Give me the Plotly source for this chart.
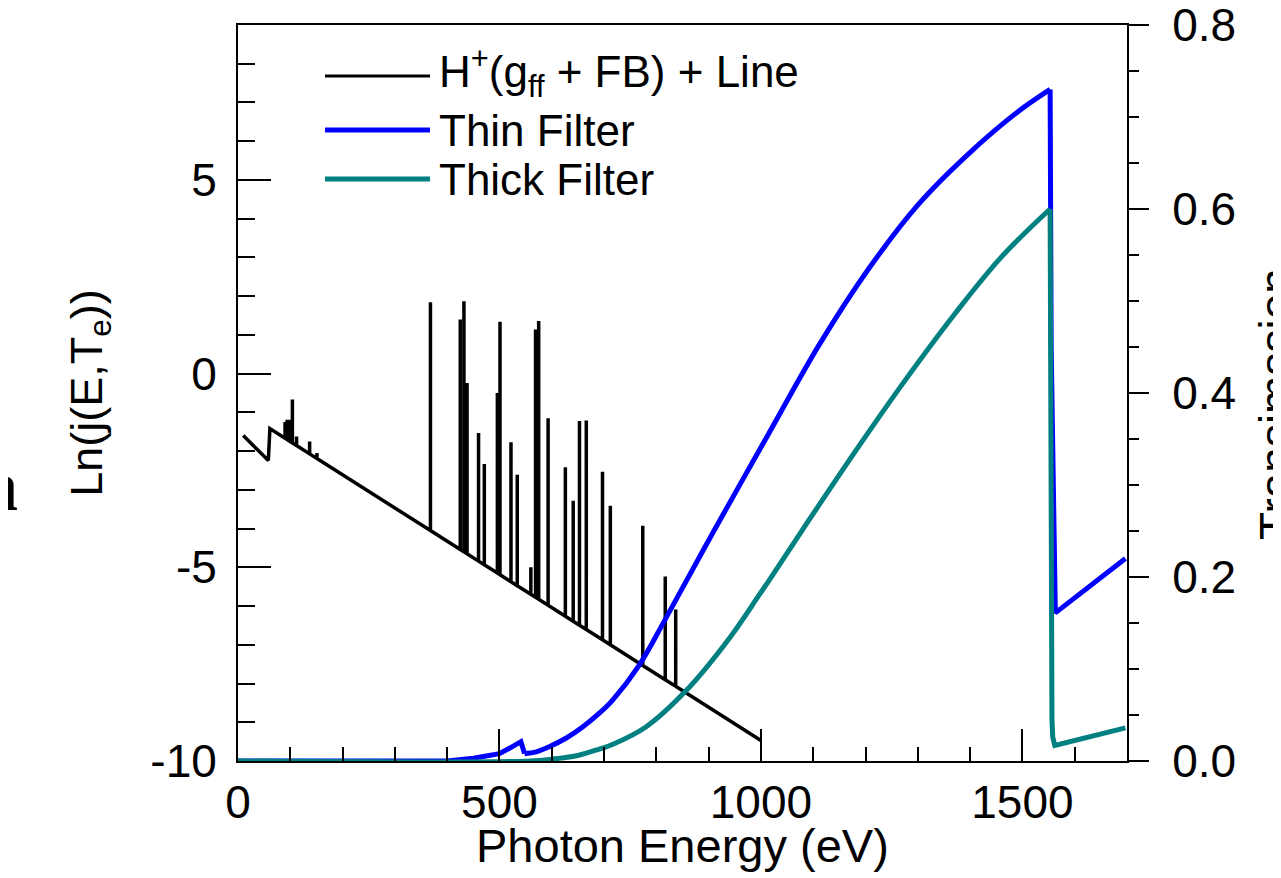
import numpy as np
import plotly.graph_objects as go

# ---------------- data ----------------
# continuum of H+ (gff + FB) emission, Ln(j(E,Te))
cont_energy = [10, 58, 61, 1000]
cont_lnj = [-1.60, -2.24, -1.42, -9.47]

# emission lines: energy (eV) and peak Ln(j)
line_energy = [90, 94, 98, 104, 112, 137, 151,
               368, 425, 432, 438, 460, 471, 496, 501, 522, 534, 560,
               569, 575, 593, 626, 641, 653, 666, 697, 712, 774, 817, 837]
line_peak = [-1.25, -1.19, -1.19, -0.67, -1.62, -1.75, -2.05,
             1.84, 1.40, 1.87, -0.24, -1.53, -2.33, -0.50, 1.34, -1.77, -2.61, -5.0,
             1.14, 1.36, -1.15, -2.42, -3.28, -1.22, -1.21, -2.53, -3.41, -3.93, -5.24, -6.09]

# thin filter transmission: below the small edge, smooth rise, above the big edge
thin_low_energy = [0, 400, 450, 500, 519, 541, 548]
thin_low_trans = [0.0, 0.0, 0.003, 0.008, 0.0138, 0.021, 0.008]
thin_mid_energy = [548, 570, 595, 627, 659, 691, 716, 767, 818, 907, 1015, 1111, 1206,
                   1301, 1397, 1492, 1553]
thin_mid_trans = [0.008, 0.010, 0.0155, 0.0247, 0.037, 0.052, 0.066, 0.104, 0.155, 0.247,
                  0.356, 0.452, 0.535, 0.605, 0.660, 0.706, 0.730]
thin_high_energy = [1553, 1555, 1563, 1697]
thin_high_trans = [0.730, 0.45, 0.161, 0.22]

# thick filter transmission
thick_mid_energy = [0, 560, 600, 650, 691, 716, 780, 856, 939, 996, 1034, 1092, 1187,
                    1276, 1372, 1460, 1553]
thick_mid_trans = [0.0, 0.0, 0.002, 0.006, 0.013, 0.018, 0.037, 0.076, 0.133, 0.180,
                   0.212, 0.262, 0.342, 0.414, 0.487, 0.548, 0.600]
thick_high_energy = [1553, 1554, 1555, 1556.5, 1558, 1562, 1697]
thick_high_trans = [0.600, 0.30, 0.092, 0.045, 0.026, 0.017, 0.036]

x_ticks = [0, 500, 1000, 1500]
x_ticktext = ["0", "500", "1000", "1500"]
y_ticks = [-10, -5, 0, 5]
y_ticktext = ["-10", "-5", "0", "5"]
y2_ticks = [0.0, 0.2, 0.4, 0.6, 0.8]
y2_ticktext = ["0.0", "0.2", "0.4", "0.6", "0.8"]

legend_names = ["H<sup>+</sup>(g<sub>ff</sub> + FB) + Line", "Thin Filter", "Thick Filter"]
colors = ["black", "#0000ff", "#008080"]

# ---------------- build black spectrum polyline ----------------
bx, by = [], []
events = sorted([(e, "c", v) for e, v in zip(cont_energy, cont_lnj)] +
                [(e, "l", p) for e, p in zip(line_energy, line_peak)], key=lambda t: t[0])
for e, kind, v in events:
    if kind == "c":
        bx.append(e); by.append(v)
    else:
        base = float(np.interp(e, cont_energy, cont_lnj))
        bx += [e, e, e]; by += [base, v, base]

FONT = "Liberation Sans, Arial, Helvetica, sans-serif"

fig = go.Figure()
fig.add_trace(go.Scatter(x=bx, y=by, mode="lines", line=dict(color=colors[0], width=3.5),
                         showlegend=False, name="H+ (gff + FB) + Line"))
for xs, ys, shp in [(thin_low_energy, thin_low_trans, "linear"),
                    (thin_mid_energy, thin_mid_trans, "spline"),
                    (thin_high_energy, thin_high_trans, "linear")]:
    fig.add_trace(go.Scatter(x=xs, y=ys, mode="lines", yaxis="y2",
                             line=dict(color=colors[1], width=5, shape=shp, smoothing=1.0),
                             showlegend=False, name="Thin Filter"))
for xs, ys, shp in [(thick_mid_energy, thick_mid_trans, "spline"),
                    (thick_high_energy, thick_high_trans, "linear")]:
    fig.add_trace(go.Scatter(x=xs, y=ys, mode="lines", yaxis="y2",
                             line=dict(color=colors[2], width=5, shape=shp, smoothing=1.0),
                             showlegend=False, name="Thick Filter"))

# page is shown with an 8 px body margin: place the figure so the plot box lands at
# page pixels x 238..1127, y 25..761
W, H = 1281, 878
OFF = 8
L, R, T, B = 238, 1127, 25, 761

def px(xp):
    return (xp - L) / (R - L)

def py(yp):
    return (B - yp) / (B - T)

# manual legend
leg_y = [76, 130, 179]
for i, (name, col) in enumerate(zip(legend_names, colors)):
    fig.add_shape(type="line", xref="paper", yref="paper",
                  x0=px(325), x1=px(430), y0=py(leg_y[i]), y1=py(leg_y[i]),
                  line=dict(color=col, width=3 if i == 0 else 5))
    fig.add_annotation(xref="paper", yref="paper", x=px(437), y=py(leg_y[i] - (4 if i == 0 else 0)),
                       text=name, showarrow=False, xanchor="left", yanchor="middle",
                       font=dict(family=FONT, size=44, color="black"))

# x axis title
fig.add_annotation(xref="paper", yref="paper", x=0.5, y=py(845), text="Photon Energy (eV)",
                   showarrow=False, xanchor="center", yanchor="middle",
                   font=dict(family=FONT, size=47, color="black"))

# right axis title (cropped at the right edge in the original)
fig.add_annotation(xref="paper", yref="paper", x=px(1248), y=py(404), text="Transimssion",
                   showarrow=False, xanchor="left", yanchor="middle", textangle=-90,
                   font=dict(family=FONT, size=46, color="black"))

# panel letter (cropped at the left edge in the original)
fig.add_annotation(xref="paper", yref="paper", x=px(20), y=py(486), text="<b>a</b>",
                   showarrow=False, xanchor="right", yanchor="middle",
                   font=dict(family="Liberation Serif, DejaVu Serif, serif", size=72, color="black"))

axis_common = dict(showgrid=False, zeroline=False, showline=True, linecolor="black",
                   linewidth=2, tickcolor="black", tickwidth=2, automargin=False,
                   ticklabeloverflow="allow",
                   tickfont=dict(family=FONT, size=46, color="black"))

fig.update_layout(
    width=W, height=H,
    margin=dict(l=L - OFF, r=W - (R - OFF), t=T - OFF, b=H - (B - OFF), autoexpand=False),
    paper_bgcolor="white", plot_bgcolor="white",
    showlegend=False,
    xaxis=dict(range=[0, 1700], tickmode="array", tickvals=x_ticks, ticktext=x_ticktext,
               ticks="inside", ticklen=32, mirror=True, ticklabelstandoff=0,
               minor=dict(tickmode="linear", tick0=0, dtick=100, ticks="inside", ticklen=14,
                          tickwidth=2, tickcolor="black"),
               **axis_common),
    yaxis=dict(range=[-10, 9], tickmode="array", tickvals=y_ticks, ticktext=y_ticktext,
               ticks="inside", ticklen=33, ticklabelstandoff=10,
               minor=dict(tickmode="linear", tick0=0, dtick=1, ticks="inside", ticklen=17,
                          tickwidth=2, tickcolor="black"),
               title=dict(text="Ln(j(E,T<sub>e</sub>))", font=dict(family=FONT, size=45, color="black"),
                          standoff=34),
               **axis_common),
    yaxis2=dict(range=[0, 0.8], overlaying="y", side="right", tickmode="array",
                tickvals=y2_ticks, ticktext=y2_ticktext,
                ticks="outside", ticklen=20, ticklabelstandoff=14,
                minor=dict(tickmode="linear", tick0=0, dtick=0.05, ticks="outside", ticklen=10,
                           tickwidth=2, tickcolor="black"),
                **axis_common),
)

fig.write_html("out.html")
